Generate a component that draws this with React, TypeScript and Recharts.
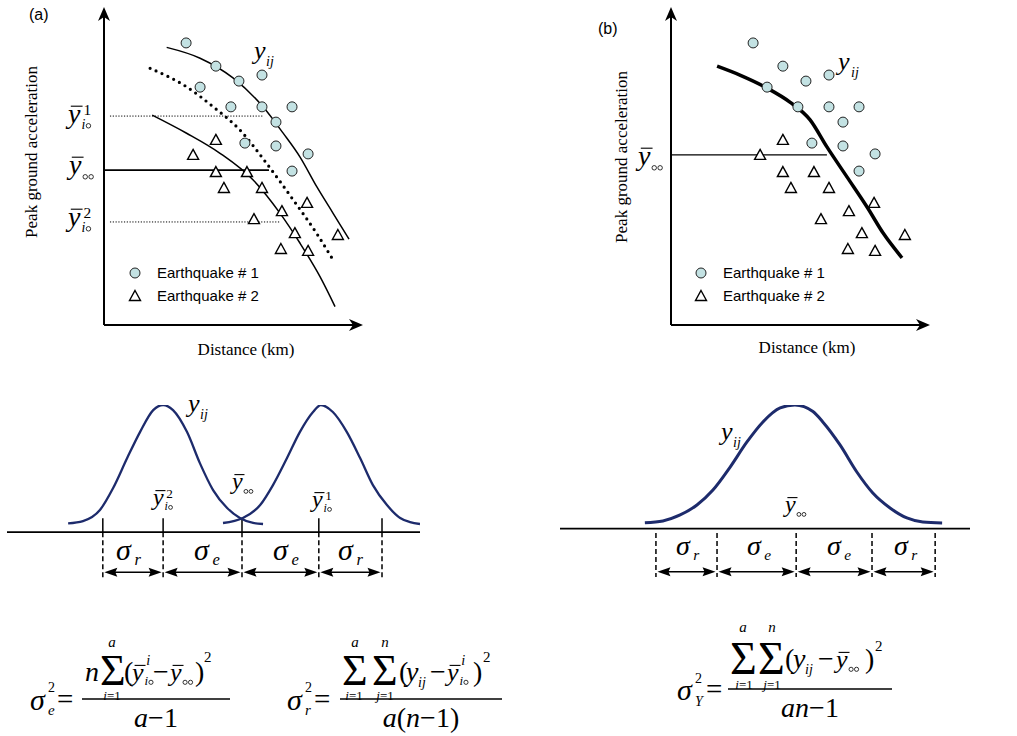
import React from 'react';
import { ComposedChart, Line, Scatter, XAxis, YAxis, ReferenceLine } from 'recharts';

// Panels (a) and (b): distance vs peak ground acceleration, both read on a 0-100 scale
const quake1 = [
  { x: 31.7, y: 88.7 }, { x: 43.2, y: 81.4 }, { x: 37.1, y: 74.8 }, { x: 52.1, y: 76.7 },
  { x: 61.0, y: 78.6 }, { x: 49.0, y: 68.6 }, { x: 61.0, y: 68.6 }, { x: 72.6, y: 68.6 },
  { x: 66.4, y: 63.8 }, { x: 54.4, y: 57.2 }, { x: 66.4, y: 56.3 }, { x: 78.8, y: 53.8 },
  { x: 72.6, y: 48.4 },
];
const quake2 = [
  { x: 43.2, y: 58.2 }, { x: 34.4, y: 53.5 }, { x: 43.2, y: 48.1 }, { x: 55.2, y: 48.1 },
  { x: 46.3, y: 43.1 }, { x: 61.0, y: 43.1 }, { x: 78.4, y: 38.4 }, { x: 68.7, y: 35.8 },
  { x: 57.9, y: 33.3 }, { x: 73.7, y: 28.9 }, { x: 90.3, y: 28.3 }, { x: 68.3, y: 23.9 },
  { x: 78.8, y: 23.3 },
];
const upperFit = [
  { x: 24.2, y: 87.3 }, { x: 37.1, y: 83.9 }, { x: 49.8, y: 77.7 }, { x: 61.4, y: 68.6 },
  { x: 69.1, y: 60.4 }, { x: 75.7, y: 52.8 }, { x: 82.2, y: 43.4 }, { x: 88.4, y: 35.2 },
  { x: 94.6, y: 27.0 },
];
const meanFit = [
  { x: 17.8, y: 80.7 }, { x: 31.9, y: 74.9 }, { x: 42.2, y: 68.6 }, { x: 52.5, y: 61.3 },
  { x: 62.8, y: 50.8 }, { x: 73.1, y: 39.3 }, { x: 82.1, y: 28.8 }, { x: 88.5, y: 20.4 },
];
const lowerFit = [
  { x: 18.6, y: 66.0 }, { x: 31.9, y: 60.3 }, { x: 44.8, y: 54.0 }, { x: 57.6, y: 45.6 },
  { x: 68.0, y: 35.1 }, { x: 75.7, y: 25.7 }, { x: 83.4, y: 15.2 }, { x: 89.2, y: 5.8 },
];
const pooledFit = [
  { x: 17.8, y: 81.4 }, { x: 26.6, y: 78.6 }, { x: 37.1, y: 74.5 }, { x: 45.9, y: 70.1 },
  { x: 53.7, y: 64.5 }, { x: 60.2, y: 56.0 }, { x: 68.0, y: 46.5 }, { x: 75.7, y: 37.1 },
  { x: 81.9, y: 28.9 }, { x: 89.2, y: 21.1 },
];
// group means (y_i°^1, y_°°, y_i°^2) and where their guide lines stop
const levelValues = [65.7, 48.7, 32.4];
const levelStarts = [2.3, 0, 2.3];
const levelEnds = [61.4, 63.7, 68.0];
const pooledLevel = 53.5;
const pooledLevelEnd = 60.2;

// Bottom left: two group distributions
const bellLow = [
  { x: 14.8, y: 6.9 }, { x: 18.4, y: 8.7 }, { x: 22.5, y: 17.4 }, { x: 25.7, y: 34.7 },
  { x: 29.1, y: 58.3 }, { x: 32.2, y: 78.7 }, { x: 35.4, y: 96.0 }, { x: 37.8, y: 100 },
  { x: 40.2, y: 96.0 }, { x: 43.6, y: 78.7 }, { x: 46.7, y: 54.3 }, { x: 49.9, y: 33.1 },
  { x: 53.3, y: 19.0 }, { x: 56.4, y: 11.1 }, { x: 59.6, y: 7.2 }, { x: 62.0, y: 6.4 },
];
const bellHigh = [
  { x: 52.3, y: 7.2 }, { x: 57.1, y: 11.1 }, { x: 61.3, y: 21.3 }, { x: 64.4, y: 37.0 },
  { x: 67.8, y: 58.3 }, { x: 70.9, y: 78.7 }, { x: 74.1, y: 94.5 }, { x: 76.0, y: 100 },
  { x: 78.9, y: 94.5 }, { x: 82.3, y: 78.7 }, { x: 85.5, y: 58.3 }, { x: 88.6, y: 37.0 },
  { x: 92.0, y: 21.3 }, { x: 95.2, y: 11.1 }, { x: 97.6, y: 7.9 }, { x: 100, y: 6.4 },
];
const sepTicksA = [23.2, 37.8, 56.9, 75.5, 90.8];
const sigmaLabelsA = ['r', 'e', 'e', 'r'];

// Bottom right: pooled distribution
const bellAll = [
  { x: 20.7, y: 4.8 }, { x: 25.1, y: 6.2 }, { x: 29.3, y: 11.0 }, { x: 33.4, y: 19.1 },
  { x: 37.3, y: 31.2 }, { x: 41.5, y: 49.8 }, { x: 45.6, y: 70.1 }, { x: 49.5, y: 86.3 },
  { x: 53.7, y: 97.6 }, { x: 57.3, y: 100 }, { x: 61.7, y: 94.7 }, { x: 64.1, y: 86.3 },
  { x: 68.3, y: 67.7 }, { x: 72.4, y: 45.8 }, { x: 76.3, y: 28.8 }, { x: 80.5, y: 16.7 },
  { x: 84.6, y: 8.6 }, { x: 88.5, y: 5.3 }, { x: 93.2, y: 4.5 },
];
const sepTicksB = [23.4, 38.3, 57.6, 76.1, 91.5];
const sigmaLabelsB = ['r', 'e', 'e', 'r'];

const SERIF = '"Liberation Serif", "Times New Roman", serif';
const SANS = '"Liberation Sans", Arial, sans-serif';
const CIRCLE_FILL = '#c3e2e3';
const NAVY = '#1d2b6c';

function head(x: number, y: number, ang: number, len: number, half: number, notch: number, key?: string) {
  const c = Math.cos(ang), s = Math.sin(ang);
  const p = (u: number, v: number) => `${x + u * c - v * s},${y + u * s + v * c}`;
  return <polygon key={key} points={[p(0, 0), p(-len, -half), p(-len + notch, 0), p(-len, half)].join(' ')} fill="#000" />;
}

const AxisArrow = (props: any) => {
  const { x1, y1, x2, y2 } = props;
  const ang = Math.atan2(y2 - y1, x2 - x1);
  const back = 9;
  return (
    <g>
      <line x1={x1} y1={y1} x2={x2 - back * Math.cos(ang)} y2={y2 - back * Math.sin(ang)} stroke="#000" strokeWidth={2} />
      {head(x2, y2, ang, 14, 6, 4)}
    </g>
  );
};

const DoubleArrow = (props: any) => {
  const { x1, y1, x2, y2 } = props;
  const gap = 1.5;
  const a = x1 + gap, b = x2 - gap;
  return (
    <g>
      <line x1={a + 8} y1={y1} x2={b - 8} y2={y2} stroke="#000" strokeWidth={1.6} />
      {head(b, y2, 0, 13, 4.5, 2, 'r')}
      {head(a, y1, Math.PI, 13, 4.5, 2, 'l')}
    </g>
  );
};

const CircleDot = (p: any) => (
  <circle cx={p.cx} cy={p.cy} r={5} fill={CIRCLE_FILL} stroke="#222" strokeWidth={1} />
);
const TriDot = (p: any) => (
  <polygon
    points={`${p.cx},${p.cy - 5.5} ${p.cx + 5.5},${p.cy + 4.5} ${p.cx - 5.5},${p.cy + 4.5}`}
    fill="#fff" stroke="#000" strokeWidth={1.4}
  />
);

const Tx = ({ x, y, fs, it, anchor, children, family = SERIF }: any) => (
  <text x={x} y={y} fontSize={fs} fontFamily={family} fontStyle={it ? 'italic' : 'normal'} textAnchor={anchor || 'start'} fill="#000">
    {children}
  </text>
);

const Sub = ({ x, y, fs, s }: any) => {
  const parts: any[] = [];
  let cx = x;
  s.split('').forEach((ch: string, i: number) => {
    if (ch === 'o') {
      parts.push(<circle key={i} cx={cx + fs * 0.2} cy={y - fs * 0.2} r={fs * 0.16} fill="none" stroke="#000" strokeWidth={0.8} />);
      cx += fs * 0.42;
    } else {
      parts.push(<Tx key={i} x={cx} y={y} fs={fs} it>{ch}</Tx>);
      cx += fs * 0.3;
    }
  });
  return <g>{parts}</g>;
};

const YBar = ({ x, y, fs, sup, sub, supDy = 0.28, subDy = 0.2 }: any) => (
  <g>
    <Tx x={x} y={y} fs={fs} it>y</Tx>
    <line x1={x + fs * 0.1} x2={x + fs * 0.52} y1={y - fs * 0.6} y2={y - fs * 0.6} stroke="#000" strokeWidth={1.1} />
    {sup && <Tx x={x + fs * 0.55} y={y - fs * supDy} fs={fs * 0.55} it={sup === 'i'}>{sup}</Tx>}
    {sub && <Sub x={x + fs * 0.48} y={y + fs * subDy} fs={fs * 0.5} s={sub} />}
  </g>
);

const Legend = ({ x, y }: any) => (
  <g>
    <CircleDot cx={x} cy={y} />
    <Tx x={x + 22} y={y + 5} fs={15} family={SANS}>Earthquake # 1</Tx>
    <TriDot cx={x} cy={y + 23} />
    <Tx x={x + 22} y={y + 28} fs={15} family={SANS}>Earthquake # 2</Tx>
  </g>
);

function ScatterPanel({ variant, left }: { variant: 'a' | 'b'; left: number }) {
  return (
    <div style={{ position: 'absolute', left, top: 0 }}>
      <ComposedChart width={380} height={370} margin={{ top: 7, right: 17, bottom: 45, left: 104 }}>
        <XAxis type="number" dataKey="x" domain={[0, 100]} allowDataOverflow hide />
        <YAxis type="number" dataKey="y" domain={[0, 100]} allowDataOverflow hide />
        <ReferenceLine segment={[{ x: 0, y: 0 }, { x: 100, y: 0 }]} shape={AxisArrow} ifOverflow="visible" />
        <ReferenceLine segment={[{ x: 0, y: 0 }, { x: 0, y: 100 }]} shape={AxisArrow} ifOverflow="visible" />
        {variant === 'a' &&
          levelValues.map((v, i) => (
            <ReferenceLine
              key={i}
              segment={[{ x: levelStarts[i], y: v }, { x: levelEnds[i], y: v }]}
              stroke="#000"
              strokeWidth={i === 1 ? 1.6 : 1}
              strokeDasharray={i === 1 ? undefined : '1.2 1.6'}
              ifOverflow="visible"
            />
          ))}
        {variant === 'b' && (
          <ReferenceLine
            segment={[{ x: 0, y: pooledLevel }, { x: pooledLevelEnd, y: pooledLevel }]}
            stroke="#000"
            strokeWidth={1.2}
            ifOverflow="visible"
          />
        )}
        {variant === 'a' && (
          <Line data={upperFit} dataKey="y" type="monotone" stroke="#000" strokeWidth={1.5} dot={false} isAnimationActive={false} />
        )}
        {variant === 'a' && (
          <Line data={lowerFit} dataKey="y" type="monotone" stroke="#000" strokeWidth={1.5} dot={false} isAnimationActive={false} />
        )}
        {variant === 'a' && (
          <Line
            data={meanFit}
            dataKey="y"
            type="monotone"
            stroke="#000"
            strokeWidth={3.2}
            strokeDasharray="0 6.5"
            strokeLinecap="round"
            dot={false}
            isAnimationActive={false}
          />
        )}
        {variant === 'b' && (
          <Line data={pooledFit} dataKey="y" type="monotone" stroke="#000" strokeWidth={3.5} dot={false} isAnimationActive={false} />
        )}
        <Scatter data={quake1} shape={CircleDot} isAnimationActive={false} />
        <Scatter data={quake2} shape={TriDot} isAnimationActive={false} />
      </ComposedChart>
    </div>
  );
}

function BellPanel({ which }: { which: 'a' | 'b' }) {
  const isA = which === 'a';
  const ticks = isA ? sepTicksA : sepTicksB;
  const arrowY = isA ? -31.5 : -34.9;
  const dashTop = isA ? 0 : -3.6;
  const dashBottom = isA ? -36 : -39.2;
  return (
    <div style={{ position: 'absolute', left: isA ? 0 : 550, top: 395 }}>
      <ComposedChart
        width={430}
        height={isA ? 198 : 193}
        margin={{ top: 10, right: 10, bottom: 10, left: isA ? 7 : 10 }}
      >
        <XAxis type="number" dataKey="x" domain={[0, 100]} allowDataOverflow hide />
        <YAxis type="number" dataKey="y" domain={[-40, 100]} allowDataOverflow hide />
        <ReferenceLine segment={[{ x: 0, y: 0 }, { x: 100, y: 0 }]} stroke="#000" strokeWidth={1.8} ifOverflow="visible" />
        {ticks.map((t, i) =>
          isA ? (
            <ReferenceLine key={'s' + i} segment={[{ x: t, y: 0 }, { x: t, y: 11 }]} stroke="#000" strokeWidth={1.5} ifOverflow="visible" />
          ) : null
        )}
        {ticks.map((t, i) => (
          <ReferenceLine
            key={'d' + i}
            segment={[{ x: t, y: dashTop }, { x: t, y: dashBottom }]}
            stroke="#000"
            strokeWidth={1.5}
            strokeDasharray="5 3"
            ifOverflow="visible"
          />
        ))}
        {ticks.slice(0, -1).map((t, i) => (
          <ReferenceLine
            key={'a' + i}
            segment={[{ x: t, y: arrowY }, { x: ticks[i + 1], y: arrowY }]}
            shape={DoubleArrow}
            ifOverflow="visible"
          />
        ))}
        {isA && <Line data={bellLow} dataKey="y" type="monotone" stroke={NAVY} strokeWidth={2.3} dot={false} isAnimationActive={false} />}
        {isA && <Line data={bellHigh} dataKey="y" type="monotone" stroke={NAVY} strokeWidth={2.3} dot={false} isAnimationActive={false} />}
        {!isA && <Line data={bellAll} dataKey="y" type="monotone" stroke={NAVY} strokeWidth={3} dot={false} isAnimationActive={false} />}
      </ComposedChart>
    </div>
  );
}

const Sigma = ({ cx, y, fs, s }: any) => (
  <g>
    <Tx x={cx - fs * 0.5} y={y} fs={fs} it>σ</Tx>
    <Tx x={cx + fs * 0.12} y={y + 5} fs={fs * 0.55} it>{s}</Tx>
  </g>
);

function Overlay() {
  const sigA = [131, 209, 288, 353];
  const sigB = [690, 761, 841, 908];
  return (
    <svg width={1017} height={736} style={{ position: 'absolute', left: 0, top: 0, pointerEvents: 'none' }}>
      {/* panel (a) */}
      <Tx x={29} y={20} fs={16} family={SANS}>(a)</Tx>
      <text transform="translate(37,152) rotate(-90)" textAnchor="middle" fontSize={17} fontFamily={SERIF}>Peak ground acceleration</text>
      <Tx x={246} y={355} fs={17} anchor="middle">Distance (km)</Tx>
      <YBar x={68} y={123} fs={28} sup="1" sub="io" />
      <YBar x={69} y={174} fs={28} sub="oo" />
      <YBar x={68} y={226} fs={28} sup="2" sub="io" />
      <Tx x={254} y={59} fs={26} it>y</Tx>
      <Tx x={266} y={66} fs={14} it>ij</Tx>
      <Legend x={135} y={273} />

      {/* panel (b) */}
      <Tx x={598} y={34} fs={16} family={SANS}>(b)</Tx>
      <text transform="translate(627,157) rotate(-90)" textAnchor="middle" fontSize={17} fontFamily={SERIF}>Peak ground acceleration</text>
      <Tx x={807} y={353} fs={17} anchor="middle">Distance (km)</Tx>
      <YBar x={638} y={165} fs={28} sub="oo" />
      <Tx x={838} y={70} fs={26} it>y</Tx>
      <Tx x={851} y={77} fs={14} it>ij</Tx>
      <Legend x={701} y={273} />

      {/* bottom left labels */}
      <Tx x={188} y={412} fs={26} it>y</Tx>
      <Tx x={200} y={419} fs={14} it>ij</Tx>
      <YBar x={153} y={505} fs={24} sup="2" sub="io" />
      <YBar x={232} y={489} fs={24} sub="oo" />
      <YBar x={312} y={507} fs={24} sup="1" sub="io" />
      {sigmaLabelsA.map((s, i) => <Sigma key={i} cx={sigA[i]} y={560} fs={30} s={s} />)}

      {/* bottom right labels */}
      <Tx x={721} y={440} fs={26} it>y</Tx>
      <Tx x={733} y={447} fs={14} it>ij</Tx>
      <YBar x={785} y={512} fs={24} sub="oo" />
      {sigmaLabelsB.map((s, i) => <Sigma key={i} cx={sigB[i]} y={555} fs={28} s={s} />)}

      {/* formula sigma_e^2 */}
      <Tx x={30} y={710} fs={30} it>σ</Tx>
      <Tx x={48} y={692} fs={14}>2</Tx>
      <Tx x={48} y={715} fs={15} it>e</Tx>
      <Tx x={57} y={709} fs={29}>=</Tx>
      <line x1={82} x2={230} y1={699} y2={699} stroke="#000" strokeWidth={1.3} />
      <Tx x={85} y={681} fs={28} it>n</Tx>
      <Tx x={100} y={685} fs={44}>Σ</Tx>
      <Tx x={112} y={647} fs={15} it anchor="middle">a</Tx>
      <Tx x={112} y={700} fs={13} anchor="middle"><tspan fontStyle="italic">i</tspan>=1</Tx>
      <Tx x={124} y={681} fs={28}>(</Tx>
      <YBar x={132} y={681} fs={26} sup="i" sub="io" supDy={0.6} subDy={0.15} />
      <Tx x={153} y={681} fs={28}>−</Tx>
      <YBar x={170} y={681} fs={26} sub="oo" subDy={0.15} />
      <Tx x={195} y={681} fs={28}>)</Tx>
      <Tx x={204} y={662} fs={15}>2</Tx>
      <Tx x={156} y={727} fs={28} anchor="middle"><tspan fontStyle="italic">a</tspan>−1</Tx>

      {/* formula sigma_r^2 */}
      <Tx x={287} y={710} fs={30} it>σ</Tx>
      <Tx x={305} y={692} fs={14}>2</Tx>
      <Tx x={305} y={715} fs={15} it>r</Tx>
      <Tx x={314} y={709} fs={29}>=</Tx>
      <line x1={340} x2={502} y1={699} y2={699} stroke="#000" strokeWidth={1.3} />
      <Tx x={342} y={685} fs={44}>Σ</Tx>
      <Tx x={372} y={685} fs={44}>Σ</Tx>
      <Tx x={355} y={647} fs={15} it anchor="middle">a</Tx>
      <Tx x={385} y={647} fs={15} it anchor="middle">n</Tx>
      <Tx x={354} y={700} fs={13} anchor="middle"><tspan fontStyle="italic">i</tspan>=1</Tx>
      <Tx x={385} y={700} fs={13} anchor="middle"><tspan fontStyle="italic">j</tspan>=1</Tx>
      <Tx x={399} y={681} fs={28}>(</Tx>
      <Tx x={406} y={681} fs={28} it>y</Tx>
      <Tx x={418} y={687} fs={14} it>ij</Tx>
      <Tx x={430} y={681} fs={28}>−</Tx>
      <YBar x={447} y={681} fs={26} sup="i" sub="io" supDy={0.6} subDy={0.15} />
      <Tx x={473} y={681} fs={28}>)</Tx>
      <Tx x={483} y={662} fs={15}>2</Tx>
      <Tx x={421} y={727} fs={28} anchor="middle"><tspan fontStyle="italic">a</tspan>(<tspan fontStyle="italic">n</tspan>−1)</Tx>

      {/* formula sigma_Y^2 */}
      <Tx x={677} y={700} fs={30} it>σ</Tx>
      <Tx x={695} y={683} fs={14}>2</Tx>
      <Tx x={695} y={706} fs={14} it>Y</Tx>
      <Tx x={706} y={699} fs={29}>=</Tx>
      <line x1={728} x2={892} y1={689} y2={689} stroke="#000" strokeWidth={1.3} />
      <Tx x={730} y={674} fs={46}>Σ</Tx>
      <Tx x={758} y={674} fs={46}>Σ</Tx>
      <Tx x={743} y={632} fs={15} it anchor="middle">a</Tx>
      <Tx x={772} y={632} fs={15} it anchor="middle">n</Tx>
      <Tx x={744} y={689} fs={13} anchor="middle"><tspan fontStyle="italic">i</tspan>=1</Tx>
      <Tx x={772} y={689} fs={13} anchor="middle"><tspan fontStyle="italic">j</tspan>=1</Tx>
      <Tx x={785} y={668} fs={28}>(</Tx>
      <Tx x={793} y={668} fs={28} it>y</Tx>
      <Tx x={805} y={674} fs={14} it>ij</Tx>
      <Tx x={818} y={668} fs={28}>−</Tx>
      <YBar x={836} y={668} fs={26} sub="oo" subDy={0.15} />
      <Tx x={865} y={668} fs={28}>)</Tx>
      <Tx x={875} y={651} fs={15}>2</Tx>
      <Tx x={810} y={717} fs={28} anchor="middle"><tspan fontStyle="italic">an</tspan>−1</Tx>
    </svg>
  );
}

export default function App() {
  return (
    <div style={{ position: 'absolute', left: 0, top: 0, width: 1017, height: 736, background: '#fff', overflow: 'hidden' }}>
      <ScatterPanel variant="a" left={0} />
      <ScatterPanel variant="b" left={567} />
      <BellPanel which="a" />
      <BellPanel which="b" />
      <Overlay />
    </div>
  );
}
